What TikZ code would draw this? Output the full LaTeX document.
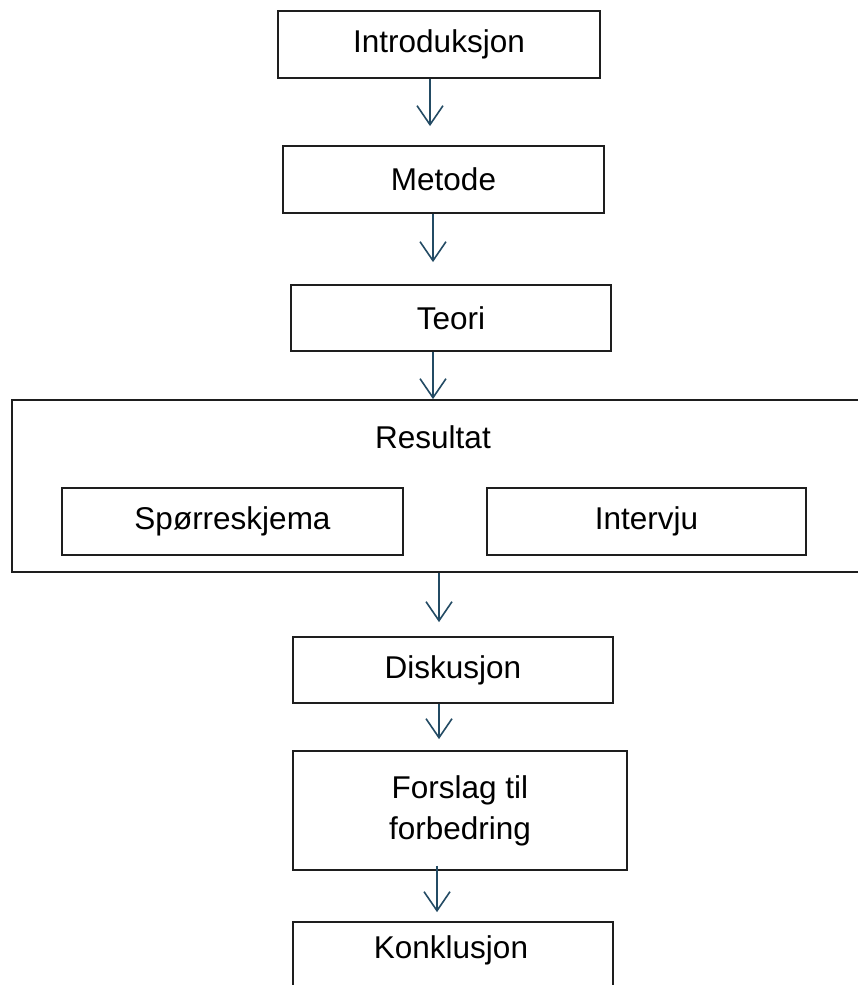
\documentclass[tikz,border=0pt]{standalone}
\usepackage{fontspec}
\setmainfont{Liberation Sans}
\usetikzlibrary{arrows.meta}
\definecolor{arrowcol}{RGB}{35,75,100}
\definecolor{boxline}{RGB}{30,30,30}
\begin{document}
\begin{tikzpicture}[x=1pt,y=-1pt,
  box/.style={draw=boxline, line width=1.8pt, inner sep=0pt, fill=white},
  txt/.style={font=\fontsize{31.5}{37}\selectfont, align=center, inner sep=0pt},
  arr/.style={draw=arrowcol, line width=1.7pt,
    -{Straight Barb[length=19pt,width=26pt,line width=1.6pt]}}]
\useasboundingbox (0,0) rectangle (858,985);
% boxes
\node[box, txt, minimum width=322, minimum height=67] (intro) at (439,44.5) {Introduksjon};
\node[box, txt, minimum width=321, minimum height=67] (metode) at (443.5,179.5) {Metode};
\node[box, txt, minimum width=320, minimum height=66] (teori) at (451,318) {Teori};
\node[box, minimum width=852, minimum height=172] (resultat) at (438,486) {};
\node[txt] (resulttxt) at (433,437) {Resultat};
\node[box, txt, minimum width=341, minimum height=67] (spor) at (232.5,521.5) {Spørreskjema};
\node[box, txt, minimum width=319, minimum height=67] (interv) at (646.5,521.5) {Intervju};
\node[box, txt, minimum width=320, minimum height=66] (disk) at (453,670) {Diskusjon};
\node[box, txt, minimum width=334, minimum height=119] (forslag) at (460,810.5) {Forslag til\\[4pt]forbedring};
\node[box, minimum width=320, minimum height=80] (konk) at (453,962) {};
\node[txt] (konktxt) at (451,950) {Konklusjon};
% arrow x positions
\coordinate (c1) at (430,0);
\coordinate (c2) at (433,0);
\coordinate (c3) at (433,0);
\coordinate (c4) at (439,0);
\coordinate (c5) at (439,0);
\coordinate (c6) at (437,0);
% arrows
\draw[arr, shorten >=19pt] (intro.south -| c1) -- (metode.north -| c1);
\draw[arr, shorten >=22pt] (metode.south -| c2) -- (teori.north -| c2);
\draw[arr] (teori.south -| c3) -- (resultat.north -| c3);
\draw[arr, shorten >=14pt] (resultat.south -| c4) -- (disk.north -| c4);
\draw[arr, shorten >=11pt] (disk.south -| c5) -- (forslag.north -| c5);
\draw[arr, shorten >=9pt] ([yshift=5pt]forslag.south -| c6) -- (konk.north -| c6);
\end{tikzpicture}
\end{document}
